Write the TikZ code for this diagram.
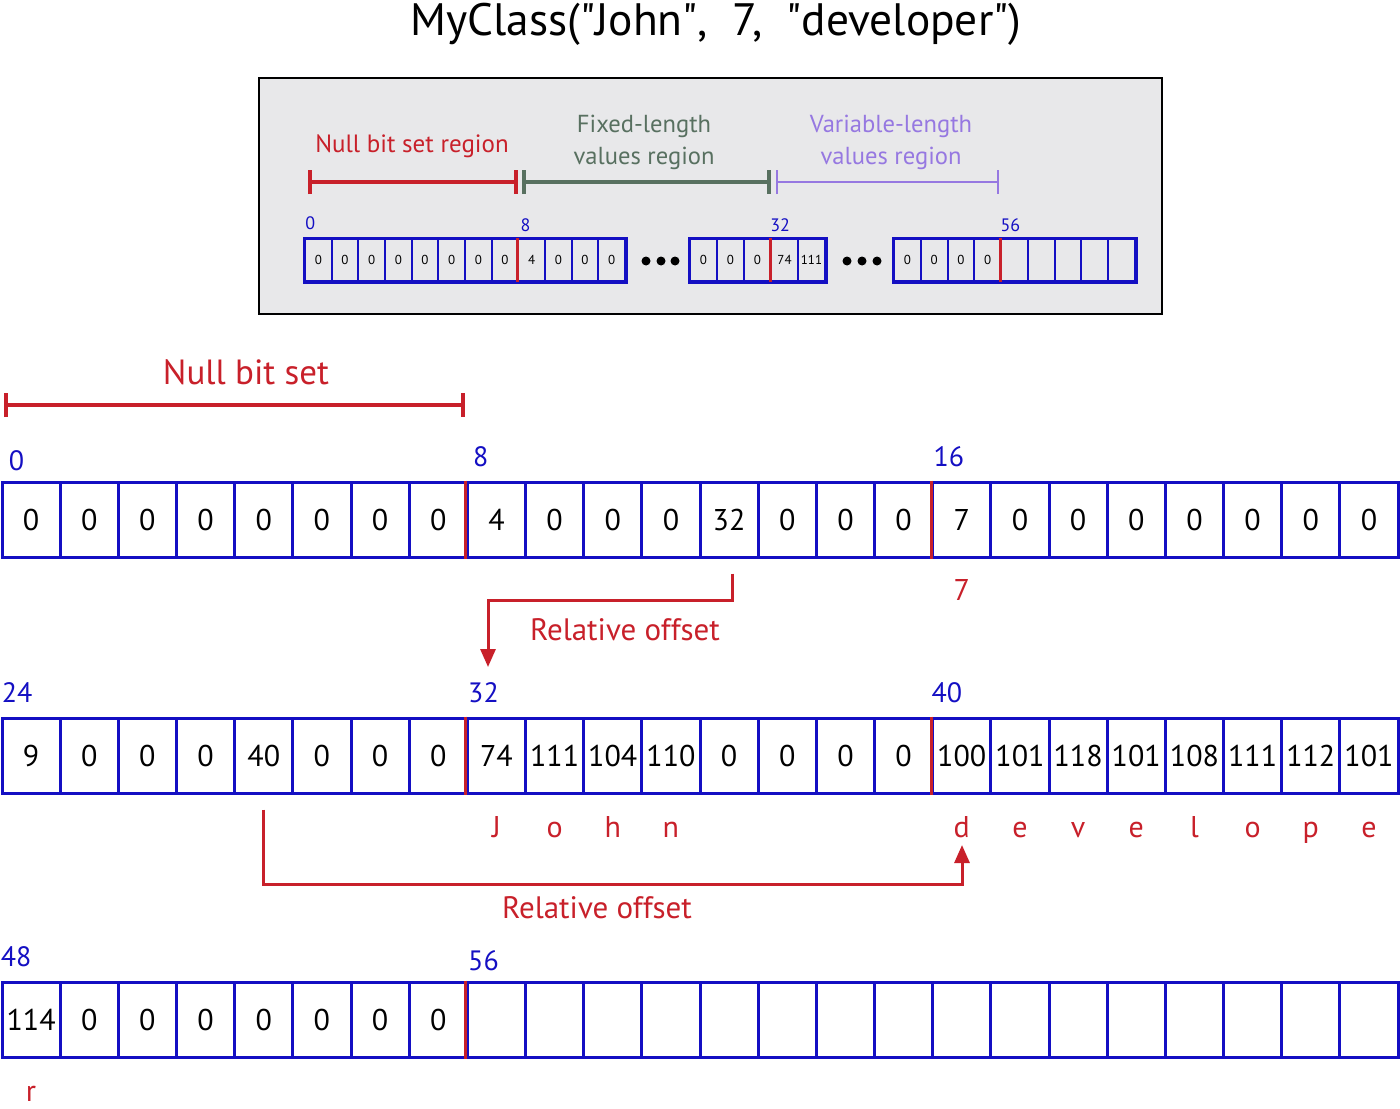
\documentclass[tikz,border=0pt]{standalone}
\usepackage{fontspec}
\setmainfont{PT Sans}
\usetikzlibrary{arrows.meta}
\definecolor{cblue}{RGB}{20,15,195}
\definecolor{cred}{RGB}{200,32,42}
\definecolor{cgreen}{RGB}{88,112,96}
\definecolor{cpurple}{RGB}{150,120,225}
\definecolor{cbg}{RGB}{232,232,234}
\tikzset{
  cell/.style={draw=cblue, line width=1.5pt, minimum width=29.083pt, minimum height=37.5pt, inner sep=0pt, font=\fontsize{15}{15}\selectfont},
  icell/.style={draw=cblue, line width=1pt, minimum height=21pt, inner sep=0pt, font=\fontsize{6.5}{6.5}\selectfont},
  outer/.style={draw=cblue, line width=1.5pt},
  sep/.style={draw=cred, line width=1.5pt},
  lbl/.style={text=cblue, font=\fontsize{14}{14}\selectfont, inner sep=0pt, anchor=base west},
  ilbl/.style={text=cblue, font=\fontsize{9}{9}\selectfont, inner sep=0pt, anchor=base west},
  chr/.style={text=cred, font=\fontsize{15}{15}\selectfont, inner sep=0pt, anchor=base},
  arr/.style={draw=cred, line width=1.5pt, -{Triangle[length=9pt,width=7.5pt]}},
  redtxt/.style={text=cred, font=\fontsize{15.5}{15.5}\selectfont},
  dot/.style={fill=black},
}
\begin{document}
\begin{tikzpicture}[x=0.5pt,y=-0.5pt]
\useasboundingbox (0,0) rectangle (1400,1108);
% title
\node[font=\fontsize{22.7}{22.7}\selectfont] (title) at (716,24) {MyClass(\textquotedbl John\textquotedbl,\ \ 7,\ \ \textquotedbl developer\textquotedbl)};
% inset
\node[draw=black, line width=1pt, fill=cbg, minimum width=451.5pt, minimum height=118pt, inner sep=0pt] (inset) at (710.5,196) {};
\node[text=cred, font=\fontsize{12.5}{12.5}\selectfont] (nbr) at (412,146) {Null bit set region};
\node[text=cgreen, font=\fontsize{12.3}{16}\selectfont, align=center] (fix) at (644,142) {Fixed-length\\values region};
\node[text=cpurple, font=\fontsize{12.3}{16}\selectfont, align=center] (var) at (891,142) {Variable-length\\values region};
\coordinate (b1a) at (308,182); \coordinate (b1b) at (518,182);
\coordinate (b2a) at (522,182); \coordinate (b2b) at (771,182);
\coordinate (b3a) at (776,182); \coordinate (b3b) at (999,182);
\draw[draw=cred, line width=2pt, {Bar[width=12pt]}-{Bar[width=12pt]}] (b1a) -- (b1b);
\draw[draw=cgreen, line width=2pt, {Bar[width=12pt]}-{Bar[width=12pt]}] (b2a) -- (b2b);
\draw[draw=cpurple, line width=1.2pt, {Bar[width=12pt]}-{Bar[width=12pt]}] (b3a) -- (b3b);
% inset cells
\foreach \v [count=\i from 0] in {0,0,0,0,0,0,0,0,4,0,0,0}
  \node[icell, minimum width=13.333pt] (ga\i) at ({305+(\i+0.5)*26.667},260) {\v};
\draw[outer] (ga0.north west) rectangle (ga11.south east);
\draw[sep] (ga8.north west) -- (ga8.south west);
\foreach \v [count=\i from 0] in {0,0,0,74,111}
  \node[icell, minimum width=13.5pt] (gb\i) at ({690+(\i+0.5)*27},260) {\v};
\draw[outer] (gb0.north west) rectangle (gb4.south east);
\draw[sep] (gb3.north west) -- (gb3.south west);
\foreach \v [count=\i from 0] in {0,0,0,0,{},{},{},{},{}}
  \node[icell, minimum width=13.389pt] (gc\i) at ({894+(\i+0.5)*26.778},260) {\v};
\draw[outer] (gc0.north west) rectangle (gc8.south east);
\draw[sep] (gc4.north west) -- (gc4.south west);
\node[ilbl] (il0) at ([shift={(1,-9)}]ga0.north west) {0};
\node[ilbl] (il8) at ([shift={(3,-7)}]ga8.north west) {8};
\node[ilbl] (il32) at ([shift={(0,-7)}]gb3.north west) {32};
\node[ilbl] (il56) at ([shift={(0,-7)}]gc4.north west) {56};
\foreach \xx in {646,661,675,847,862,877} \fill[dot] (\xx,261) circle (4.5);
% Null bit set
\node[redtxt, font=\fontsize{17.5}{17.5}\selectfont] (nbs) at (246,372) {Null bit set};
\coordinate (nba) at (4,405); \coordinate (nbb) at (465,405);
\draw[draw=cred, line width=1.8pt, {Bar[width=12pt]}-{Bar[width=12pt]}] (nba) -- (nbb);
% row 1
\foreach \v [count=\i from 0] in {0,0,0,0,0,0,0,0,4,0,0,0,32,0,0,0,7,0,0,0,0,0,0,0}
  \node[cell] (ra\i) at ({2+(\i+0.5)*58.1667},519.5) {\v};
\draw[sep] (ra8.north west) -- (ra8.south west);
\draw[sep] (ra16.north west) -- (ra16.south west);
\node[lbl] (la0) at ([shift={(8,-10)}]ra0.north west) {0};
\node[lbl] (la8) at ([shift={(7,-14)}]ra8.north west) {8};
\node[lbl] (la16) at ([shift={(2,-14)}]ra16.north west) {16};
\node[chr] (c7) at ([shift={(0,42)}]ra16.south) {7};
% arrow 1
\coordinate (a1s) at ([shift={(3,15)}]ra12.south);
\coordinate (a1e) at (488,667);
\draw[arr] (a1s) -- ++(0,27) -| (a1e);
\node[redtxt] (ro1) at (625,630) {Relative offset};
% row 2
\foreach \v [count=\i from 0] in {9,0,0,0,40,0,0,0,74,111,104,110,0,0,0,0,100,101,118,101,108,111,112,101}
  \node[cell] (rb\i) at ({2+(\i+0.5)*58.1667},755.5) {\v};
\draw[sep] (rb8.north west) -- (rb8.south west);
\draw[sep] (rb16.north west) -- (rb16.south west);
\node[lbl] (lb24) at ([shift={(1,-14)}]rb0.north west) {24};
\node[lbl] (lb32) at ([shift={(2,-14)}]rb8.north west) {32};
\node[lbl] (lb40) at ([shift={(0,-14)}]rb16.north west) {40};
\foreach \c/\k in {J/8,o/9,h/10,n/11,d/16,e/17,v/18,e/19,l/20,o/21,p/22,e/23}
  \node[chr] (ch\k) at ([shift={(0,43)}]rb\k.south) {\c};
% arrow 2
\coordinate (a2s) at ([shift={(0,15)}]rb4.south);
\coordinate (a2e) at (962,845);
\draw[arr] (a2s) -- ++(0,75) -| (a2e);
\node[redtxt] (ro2) at (597,908) {Relative offset};
% row 3
\foreach \v [count=\i from 0] in {114,0,0,0,0,0,0,0,{},{},{},{},{},{},{},{},{},{},{},{},{},{},{},{}}
  \node[cell] (rc\i) at ({2+(\i+0.5)*58.1667},1019.5) {\v};
\draw[sep] (rc8.north west) -- (rc8.south west);
\node[lbl] (lc48) at ([shift={(0,-14)}]rc0.north west) {48};
\node[lbl] (lc56) at ([shift={(2,-10)}]rc8.north west) {56};
\node[chr] (cr) at ([shift={(0,43)}]rc0.south) {r};
\end{tikzpicture}
\end{document}
